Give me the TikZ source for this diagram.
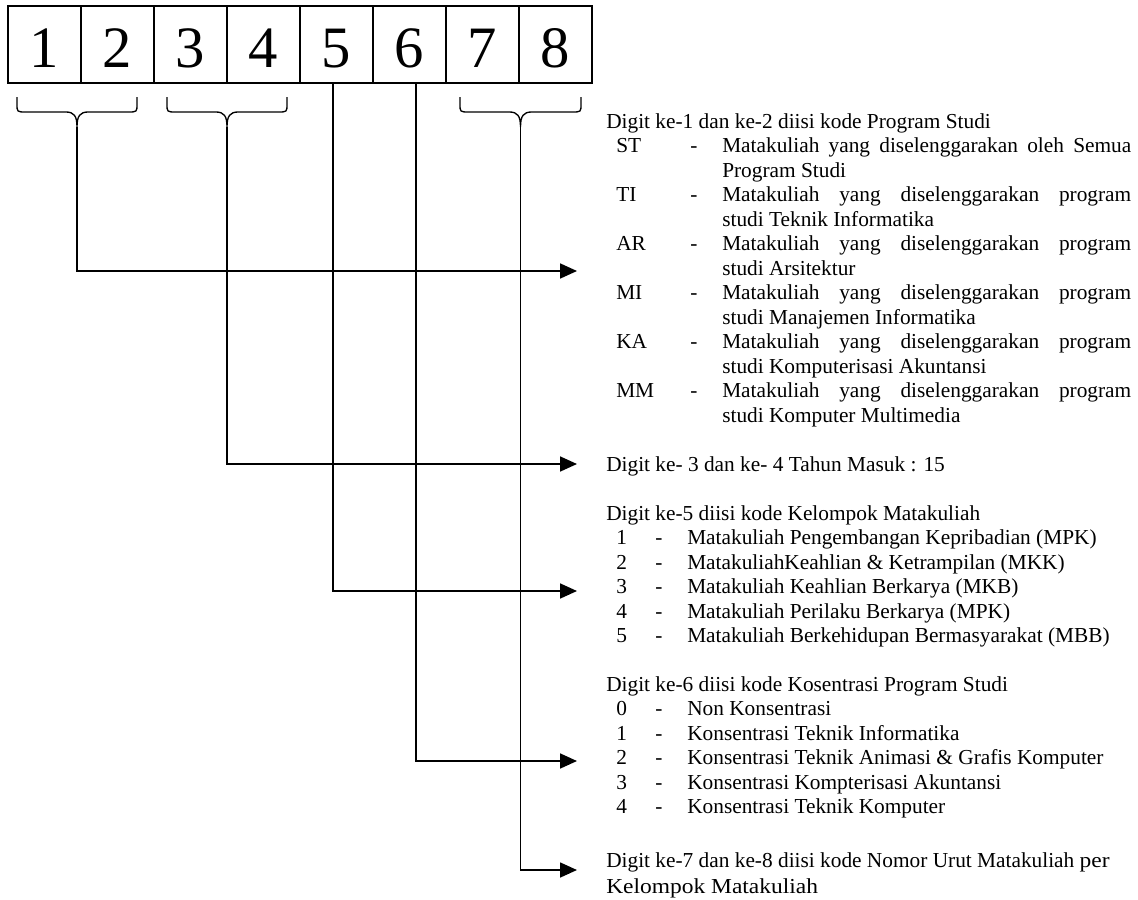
\documentclass[tikz,border=0pt]{standalone}
\usepackage{fontspec}
\setmainfont{Liberation Serif}
\newfontfamily\wideserif[FakeStretch=1.1]{Liberation Serif}
\usepackage{array}
\usetikzlibrary{arrows.meta}
\newcommand\txtsize{\fontsize{16}{18.4}\selectfont}

\begin{document}
\begin{tikzpicture}[
  x=0.75pt, y=-0.75pt,
  cell/.style={draw,line width=1pt,minimum width=54.75pt,minimum height=57.75pt,inner sep=0pt,
    font=\fontsize{44}{44}\selectfont,text height=35.25pt,text depth=0pt},
  txt/.style={anchor=base west,inner sep=0pt,font=\txtsize},
  brc/.style={line width=1pt},
  arr/.style={-{Triangle[length=12.75pt,width=11.25pt]},line width=1.3pt}
]
\useasboundingbox (0,0) rectangle (1138,899);

\node[cell] (c1) at (44.5,44.5) {1};
\node[cell] (c2) at (117.5,44.5) {2};
\node[cell] (c3) at (190.5,44.5) {3};
\node[cell] (c4) at (263.5,44.5) {4};
\node[cell] (c5) at (336.5,44.5) {5};
\node[cell] (c6) at (409.5,44.5) {6};
\node[cell] (c7) at (482.5,44.5) {7};
\node[cell] (c8) at (555.5,44.5) {8};

% braces under the digit pairs
\coordinate (t12) at (77,127);
\coordinate (t34) at (227,127);
\coordinate (t78) at (520.5,127);
\draw[brc] (17,97) -- (17,104) .. controls (17,112) .. (26,112) -- (66,112)
  .. controls (74,112) and (77,116) .. (t12) .. controls (77,116) and (80,112) .. (88,112)
  -- (128,112) .. controls (137,112) .. (137,104) -- (137,97);
\draw[brc] (167,97) -- (167,104) .. controls (167,112) .. (176,112) -- (216,112)
  .. controls (224,112) and (227,116) .. (t34) .. controls (227,116) and (230,112) .. (238,112)
  -- (278,112) .. controls (287,112) .. (287,104) -- (287,97);
\draw[brc] (460,97) -- (460,104) .. controls (460,112) .. (469,112) -- (509.5,112)
  .. controls (517.5,112) and (520.5,116) .. (t78) .. controls (520.5,116) and (523.5,112) .. (531.5,112)
  -- (572,112) .. controls (581,112) .. (581,104) -- (581,97);

\coordinate (e12) at (577,271);
\coordinate (e34) at (577,464);
\coordinate (e5) at (577,591);
\coordinate (e6) at (577,761);
\coordinate (e78) at (577,870);

\node[txt] (kode12) at (606,128) {\begin{tabular}[t]{@{\hspace{7.5pt}}p{55.5pt}@{}p{24pt}@{}p{306.75pt}@{}}
\multicolumn{3}{@{}l@{}}{Digit ke-1 dan ke-2 diisi kode Program Studi}\\
ST & - & Matakuliah yang diselenggarakan oleh Semua\linebreak Program Studi\\
TI & - & Matakuliah yang diselenggarakan program\linebreak studi Teknik Informatika\\
AR & - & Matakuliah yang diselenggarakan program\linebreak studi Arsitektur\\
MI & - & Matakuliah yang diselenggarakan program\linebreak studi Manajemen Informatika\\
KA & - & Matakuliah yang diselenggarakan program\linebreak studi Komputerisasi Akuntansi\\
MM & - & Matakuliah yang diselenggarakan program\linebreak studi Komputer Multimedia
\end{tabular}};
\node[txt] (kode34) at (606,471) {Digit ke- 3 dan ke- 4 Tahun Masuk : 15};
\node[txt] (kode5) at (606,520) {\begin{tabular}[t]{@{\hspace{7.5pt}}p{29.25pt}@{}p{24pt}@{}l@{}}
\multicolumn{3}{@{}l@{}}{Digit ke-5 diisi kode Kelompok Matakuliah}\\
1 & - & Matakuliah Pengembangan Kepribadian (MPK)\\
2 & - & MatakuliahKeahlian \& Ketrampilan (MKK)\\
3 & - & Matakuliah Keahlian Berkarya (MKB)\\
4 & - & Matakuliah Perilaku Berkarya (MPK)\\
5 & - & Matakuliah Berkehidupan Bermasyarakat (MBB)
\end{tabular}};
\node[txt] (kode6) at (606,691) {\begin{tabular}[t]{@{\hspace{7.5pt}}p{29.25pt}@{}p{24pt}@{}l@{}}
\multicolumn{3}{@{}l@{}}{Digit ke-6 diisi kode Kosentrasi Program Studi}\\
0 & - & Non Konsentrasi\\
1 & - & Konsentrasi Teknik Informatika\\
2 & - & Konsentrasi Teknik Animasi \& Grafis Komputer\\
3 & - & Konsentrasi Kompterisasi Akuntansi\\
4 & - & Konsentrasi Teknik Komputer
\end{tabular}};
\node[txt] (kode78) at (606,867) {\begin{tabular}[t]{@{}l@{}}
Digit ke-7 dan ke-8 diisi kode Nomor Urut Matakuliah {\wideserif per}\\[1.1pt]
{\wideserif Kelompok Matakuliah}
\end{tabular}};

\draw[arr] (t12) |- (e12);
\draw[arr] (t34) |- (e34);
\draw[arr] ([xshift=-2.6pt]c5.south) |- (e5);
\draw[arr] ([xshift=4.9pt]c6.south) |- (e6);
\draw[arr] (t78) |- (e78);

\end{tikzpicture}
\end{document}
